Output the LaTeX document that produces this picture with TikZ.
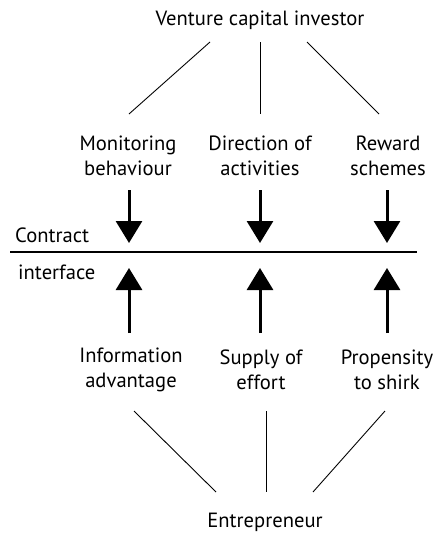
\documentclass[tikz,border=0pt]{standalone}
\usepackage{fontspec}
\setmainfont{PT Sans}
\usetikzlibrary{arrows.meta}
\begin{document}
\begin{tikzpicture}[x=1pt,y=-1pt,
  lbl/.style={font=\fontsize{20.6}{25}\selectfont, align=center, inner sep=0pt},
  conn/.style={line width=0.9pt},
  bigarrow/.style={line width=3pt, -{Triangle[width=26pt,length=22pt]}},
  contractline/.style={line width=2.8pt}]
\useasboundingbox (0,0) rectangle (436,533);
% labels
\node[lbl] (vc) at (260,20) {Venture capital investor};
\node[lbl] (mon) at (128,156) {Monitoring\\behaviour};
\node[lbl] (dir) at (260,156) {Direction of\\activities};
\node[lbl] (rew) at (388,156) {Reward\\schemes};
\node[lbl, anchor=west] (con) at (15,235) {Contract};
\node[lbl, anchor=west] (int) at (18,272) {interface};
\node[lbl] (inf) at (131,370) {Information\\advantage};
\node[lbl] (sup) at (261,370) {Supply of\\effort};
\node[lbl] (pro) at (387,370) {Propensity\\to shirk};
\node[lbl] (ent) at (265,522) {Entrepreneur};
% connector end points
\coordinate (t1) at (210,42);  \coordinate (u1) at (129,114);
\coordinate (t2) at (260,42);  \coordinate (u2) at (260,114);
\coordinate (t3) at (307,42);  \coordinate (u3) at (379,114);
\coordinate (b1) at (134,411); \coordinate (e1) at (216,492);
\coordinate (b2) at (266,411); \coordinate (e2) at (266,492);
\coordinate (b3) at (385,411); \coordinate (e3) at (313,492);
\coordinate (da1) at (129,190); \coordinate (dt1) at (129,243);
\coordinate (da2) at (260,190); \coordinate (dt2) at (260,243);
\coordinate (da3) at (387,190); \coordinate (dt3) at (387,243);
\coordinate (ua1) at (129,333); \coordinate (ut1) at (129,268);
\coordinate (ua2) at (260,333); \coordinate (ut2) at (260,268);
\coordinate (ua3) at (387,333); \coordinate (ut3) at (387,268);
\coordinate (cl) at (10,252); \coordinate (cr) at (417,252);
% thin connectors
\draw[conn] (t1) -- (u1);
\draw[conn] (t2) -- (u2);
\draw[conn] (t3) -- (u3);
\draw[conn] (b1) -- (e1);
\draw[conn] (b2) -- (e2);
\draw[conn] (b3) -- (e3);
% contract interface
\draw[contractline] (cl) -- (cr);
% arrows
\draw[bigarrow] (da1) -- (dt1);
\draw[bigarrow] (da2) -- (dt2);
\draw[bigarrow] (da3) -- (dt3);
\draw[bigarrow] (ua1) -- (ut1);
\draw[bigarrow] (ua2) -- (ut2);
\draw[bigarrow] (ua3) -- (ut3);
\end{tikzpicture}
\end{document}
